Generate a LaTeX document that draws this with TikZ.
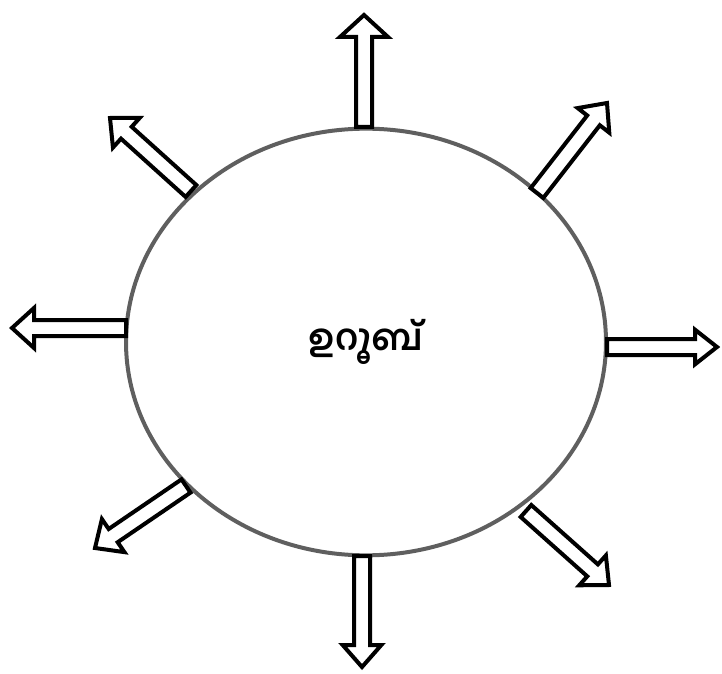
\documentclass[tikz,border=0pt]{standalone}
\usepackage{fontspec}
\newfontfamily\mlfont[Script=Malayalam]{Hind Kochi}
\usetikzlibrary{shapes.geometric,calc}
\tikzset{
  ring/.style={ellipse, draw={rgb,255:red,95;green,95;blue,95}, line width=3pt, minimum width=360pt, minimum height=320pt, inner sep=0pt},
  blockarrow/.style={draw=black, fill=white, line width=3pt, miter limit=10, line join=miter},
}
\newcommand\blkarrow[4]{%
  \coordinate (#1-n) at ($(#3)!16.5pt!(#2)$);
  \draw[blockarrow] ($(#2)!6pt!90:(#3)$) -- ($(#1-n)!6pt!90:(#3)$) -- ($(#1-n)!#4!90:(#3)$) -- (#3)
    -- ($(#1-n)!#4!-90:(#3)$) -- ($(#1-n)!6pt!-90:(#3)$) -- ($(#2)!6pt!-90:(#3)$) -- cycle;}
\begin{document}
\begin{tikzpicture}[x=0.75pt, y=-0.75pt]
\useasboundingbox (0,0) rectangle (722,674);
\node[ring] (c) at (366,342) {\mlfont\bfseries\fontsize{27pt}{31pt}\selectfont ഉറൂബ്};
% tails and tips
\coordinate (t1) at (364,127);  \coordinate (p1) at (364,15);
\coordinate (t2) at (537,193);  \coordinate (p2) at (607,103);
\coordinate (t3) at (607,347);  \coordinate (p3) at (717,347);
\coordinate (t4) at (526,511);  \coordinate (p4) at (609,585);
\coordinate (t5) at (362,556);  \coordinate (p5) at (362,667);
\coordinate (t6) at (186,486);  \coordinate (p6) at (95,548);
\coordinate (t7) at (126,328);  \coordinate (p7) at (12,328);
\coordinate (t8) at (191,191);  \coordinate (p8) at (110,118);
\blkarrow{a1}{t1}{p1}{18pt}
\blkarrow{a2}{t2}{p2}{15pt}
\blkarrow{a3}{t3}{p3}{13pt}
\blkarrow{a4}{t4}{p4}{15pt}
\blkarrow{a5}{t5}{p5}{14.5pt}
\blkarrow{a6}{t6}{p6}{15pt}
\blkarrow{a7}{t7}{p7}{15pt}
\blkarrow{a8}{t8}{p8}{15pt}
\end{tikzpicture}
\end{document}
